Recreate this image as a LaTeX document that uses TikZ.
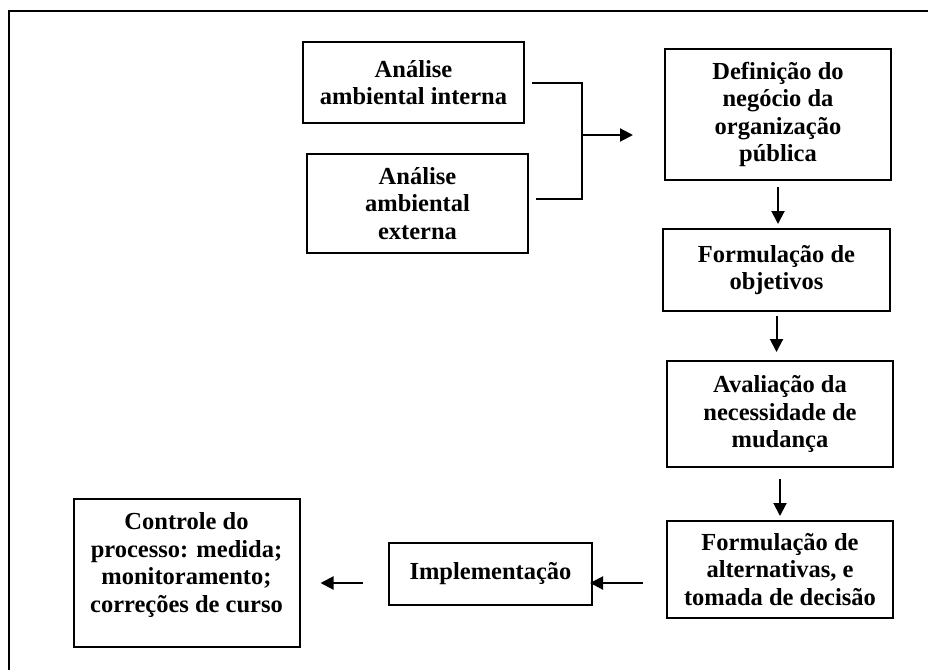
\documentclass[tikz,border=0pt]{standalone}
\usepackage{fontspec}
\setmainfont{Liberation Serif}
\usetikzlibrary{arrows.meta}

\begin{document}
\begin{tikzpicture}[x=1pt, y=-1pt,
    box/.style={draw, line width=2pt, inner sep=0pt, align=center,
        font=\fontsize{24.5}{27.5}\selectfont\bfseries},
    conn/.style={line width=2pt},
    arrow/.style={conn, -{Triangle[length=13pt, width=13pt]}}]
                \clip (0,0) rectangle (928,669);
                % Outer frame
                \draw[line width=2.6pt] (9,700) -- (9,11) -- (950,11);

                % Analysis boxes
                \node[box, minimum width=221pt, minimum height=81pt] (interna) at (413.5,82.5) {An\'alise\\ambiental interna};
                \node[box, minimum width=221pt, minimum height=99pt] (externa) at (417.5,203.5) {An\'alise\\ambiental\\externa};

                % Main column
                \node[box, minimum width=226pt, minimum height=131pt] (negocio) at (778,114.5) {Defini\c{c}\~ao do\\neg\'ocio da\\organiza\c{c}\~ao\\p\'ublica};
                \node[box, minimum width=227pt, minimum height=82pt] (objetivos) at (776.5,270) {Formula\c{c}\~ao de\\objetivos};
                \node[box, minimum width=226pt, minimum height=106pt] (mudanca) at (780,414) {Avalia\c{c}\~ao da\\necessidade de\\mudan\c{c}a};
                \node[box, minimum width=226pt, minimum height=97pt] (decisao) at (780,569.5) {Formula\c{c}\~ao de\\alternativas, e\\tomada de decis\~ao};

                % Bottom row
                \node[box, minimum width=203pt, minimum height=62pt] (implementacao) at (490.5,574) {Implementa\c{c}\~ao};
                \node[box, minimum width=226pt, minimum height=148pt] (controle) at (186.5,573) {Controle do\\processo: medida;\\monitoramento;\\corre\c{c}\~oes de curso\\[-6pt]};

                % Junction of the two analyses
                \coordinate (juncao) at (582,135);
                \draw[conn, shorten <=7pt] (interna.east) -| (juncao);
                \draw[conn, shorten <=7pt] ([yshift=5pt]externa.east) -| (juncao);
                \draw[arrow, shorten >=31pt] (juncao) -- (juncao -| negocio.west);

                % Down the column
                \draw[arrow, shorten <=6pt, shorten >=4pt] (negocio.south) -- (negocio.south |- objetivos.north);
                \draw[arrow, shorten <=4pt, shorten >=8pt] (objetivos.south) -- (objetivos.south |- mudanca.north);
                \draw[arrow, shorten <=11pt, shorten >=4pt] (mudanca.south) -- (mudanca.south |- decisao.north);

                % Back to the left
                \coordinate (linha) at ([yshift=-9pt]implementacao.east);
                \draw[arrow, shorten <=23pt, shorten >=-3pt] (linha -| decisao.west) -- (linha);
                \draw[arrow, shorten <=25pt, shorten >=20pt] (linha -| implementacao.west) -- (linha -| controle.east);
            \end{tikzpicture}
\end{document}
